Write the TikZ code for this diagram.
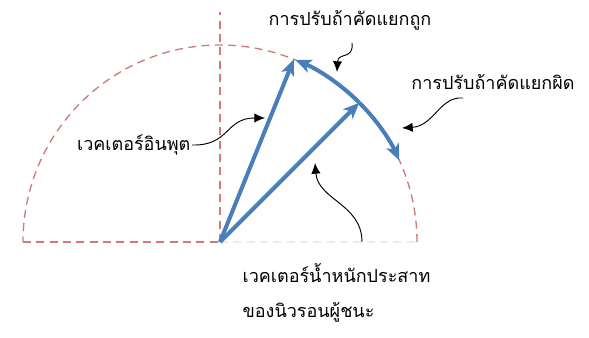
\documentclass[tikz,border=0pt]{standalone}
\usepackage{fontspec}
\newfontfamily\thaifont[Script=Thai]{Loma}
\usetikzlibrary{arrows.meta,positioning}
\definecolor{vecblue}{HTML}{4A7EBB}
\definecolor{guidered}{HTML}{D07A7A}

\tikzset{
  guide/.style={guidered, line width=1pt, dash pattern=on 6pt off 4pt},
  faint/.style={black!8, line width=1pt, dash pattern=on 6pt off 4pt},
  vec/.style={vecblue, line width=3pt, -{Stealth[length=12pt, width=10pt, inset=3pt]}},
  pointer/.style={black, line width=0.7pt, -{Latex[length=8pt, width=7pt]}},
  lbl/.style={font=\thaifont\fontsize{13.5}{15}\selectfont, inner sep=1pt}
}

\begin{document}
\begin{tikzpicture}[x=0.75pt, y=0.75pt]
  \useasboundingbox (-220,-96) rectangle (369,242);
  % guide lines
  \draw[guide] (-197,0) -- (0,0);
  \draw[faint] (0,0) -- (197,0);
  \draw[guide] (0,0) -- (0,230);
  \draw[guide] (197,0) arc[start angle=0, end angle=180, radius=197];
  % vectors
  \coordinate (o) at (0,0);
  \coordinate (inp) at (68:197);
  \coordinate (wgt) at (45:197);
  \draw[vec] (o) -- (inp);
  \draw[vec] (o) -- (wgt);
  \draw[vec] (wgt) arc[start angle=45, end angle=67.5, radius=197];
  \draw[vec] (wgt) arc[start angle=45, end angle=24.5, radius=197];
  % labels
  \node[lbl] (lblhit) at (130,222) {การปรับถ้าคัดแยกถูก};
  \node[lbl] (lblmiss) at (273,160) {การปรับถ้าคัดแยกผิด};
  \node[lbl, anchor=east] (lblinp) at (-28,97) {เวคเตอร์อินพุต};
  \node[lbl, anchor=west] (lblwgt) at (21,-31) {เวคเตอร์น้ำหนักประสาท};
  \node[lbl, anchor=west] (lblwgtb) at (21,-70) {ของนิวรอนผู้ชนะ};
  % pointers
  \coordinate (shit) at (132,199);
  \coordinate (smiss) at (243,144);
  \coordinate (swgt) at (142,0);
  \coordinate (phit) at (117,170);
  \coordinate (pmiss) at (182,114);
  \coordinate (pinp) at (45,124);
  \coordinate (pwgt) at (95,79);
  \draw[pointer] (shit) .. controls (134,182) and (118,190) .. (phit);
  \draw[pointer] (smiss) .. controls (220,146) and (214,116) .. (pmiss);
  \draw[pointer] (lblinp.east) .. controls (10,96) and (5,124) .. (pinp);
  \draw[pointer] (swgt) .. controls (142,38) and (98,42) .. (pwgt);
\end{tikzpicture}
\end{document}
